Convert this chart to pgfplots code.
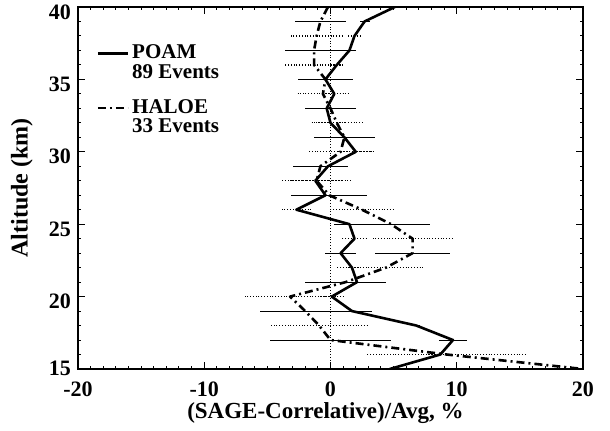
\documentclass[border=0pt]{standalone}
\usepackage{fontspec}
\setmainfont{Liberation Serif}
\usepackage{pgfplots}
\pgfplotsset{compat=1.18}
\usepackage{pgfplotstable}

\pgfplotstableread{
alt val err
40 5.1 0
39 2.7 0.4
38 1.9 0.6
37 1.5 0.5
36 0.5 0.5
35 -0.4 1.5
34 0.3 0.8
33 -0.3 1.0
32 0.0 1.2
31 1.1 1.5
30 2.0 1.5
29 -0.2 1.6
28 -1.2 2.0
27 -0.4 2.5
26 -2.7 1.3
25 1.5 1.2
24 1.9 1.0
23 0.8 1.2
22 1.7 1.3
21 2.1 1.5
20 0.1 1.0
19 1.7 1.6
18 6.8 0.3
17 9.7 1.1
16 8.7 1.0
15 4.7 0
}\poam

\pgfplotstableread{
alt val err
40 -0.2 0
39 -0.8 2.0
38 -1.1 2.2
37 -1.3 2.3
36 -1.3 2.3
35 -0.4 2.2
34 -0.6 2.0
33 0.0 2.0
32 0.5 2.0
31 1.1 2.4
30 0.8 2.5
29 -0.8 2.2
28 -1.1 2.8
27 -0.1 3.0
26 2.5 2.6
25 4.8 3.1
24 6.5 3.2
23 6.5 3.0
22 4.4 3.0
21 1.2 3.2
20 -3.2 3.6
19 -2.0 3.6
18 -0.9 3.8
17 0.0 4.8
16 9.2 6.3
15 20.0 0
}\haloe

\begin{document}
\begin{tikzpicture}
\useasboundingbox (-39pt,-31pt) rectangle (266pt,184.5pt);
\begin{axis}[
  scale only axis, width=252.5pt, height=181pt,
  at={(0pt,0pt)}, anchor=south west,
  xmin=-20, xmax=20, ymin=15, ymax=40,
  xtick={-20,-10,0,10,20}, xticklabels={-20,-10,0,10,20},
  ytick={15,20,25,30,35,40}, yticklabels={\raisebox{5.5pt}{15},20,25,30,35,40},
  minor x tick num=9, minor y tick num=4,
  tick align=inside, major tick length=3.5pt, minor tick length=1.6pt,
  axis line style={line width=0.8pt},
  every tick/.style={black, line width=0.5pt},
  font=\fontsize{11}{13}\selectfont\bfseries,
  xlabel={(SAGE-Correlative)/Avg, \%},
  ylabel={Altitude (km)},
  every axis x label/.style={at={(axis description cs:0.49,-0.123)}, anchor=center, font=\fontsize{11.5}{13}\selectfont\bfseries},
  every axis y label/.style={at={(axis description cs:-0.111,0.5)}, rotate=90, anchor=center, font=\fontsize{12}{13}\selectfont\bfseries},
  xticklabel style={yshift=-3pt},
  yticklabel style={yshift=-2.5pt},
  legend style={draw=none, fill=none, at={(axis description cs:0.036,0.905)}, anchor=north west,
    row sep=16pt, font=\fontsize{10.5}{9}\selectfont\bfseries, cells={anchor=west},
    inner sep=0pt, nodes={inner sep=1.5pt}},
  legend image code/.code={\draw[#1] (0pt,0pt) -- (15pt,0pt);},
]
\addplot[black, densely dotted, line width=0.4pt, forget plot] coordinates {(0,15) (0,40)};
% error bars, odd km (solid)
\addplot[draw=none, mark=none, forget plot,
  restrict expr to domain={mod(\thisrow{alt},2)}{0.5:1.5},
  error bars/.cd, x dir=both, x explicit, error mark=none,
  error bar style={draw=black, solid, line width=0.5pt}]
  table[x=val, y=alt, x error=err] {\poam};
\addplot[draw=none, mark=none, forget plot,
  restrict expr to domain={mod(\thisrow{alt},2)}{0.5:1.5},
  error bars/.cd, x dir=both, x explicit, error mark=none,
  error bar style={draw=black, solid, line width=0.5pt}]
  table[x=val, y=alt, x error=err] {\haloe};
% error bars, even km (dotted)
\addplot[draw=none, mark=none, forget plot,
  restrict expr to domain={mod(\thisrow{alt},2)}{-0.5:0.5},
  error bars/.cd, x dir=both, x explicit, error mark=none,
  error bar style={draw=black, densely dotted, line width=0.6pt}]
  table[x=val, y=alt, x error=err] {\poam};
\addplot[draw=none, mark=none, forget plot,
  restrict expr to domain={mod(\thisrow{alt},2)}{-0.5:0.5},
  error bars/.cd, x dir=both, x explicit, error mark=none,
  error bar style={draw=black, densely dotted, line width=0.6pt}]
  table[x=val, y=alt, x error=err] {\haloe};
% main profiles
\addplot[black, mark=none, line width=1.3pt, line join=round] table[x=val, y=alt] {\poam};
\addlegendentry{\begin{tabular}[t]{@{}l@{}}POAM\\89 Events\end{tabular}}
\addplot[black, mark=none, line width=1.3pt, line join=round, dash pattern=on 4pt off 2pt on 1pt off 2pt] table[x=val, y=alt] {\haloe};
\addlegendentry{\begin{tabular}[t]{@{}l@{}}HALOE\\33 Events\end{tabular}}
\end{axis}
\end{tikzpicture}
\end{document}
